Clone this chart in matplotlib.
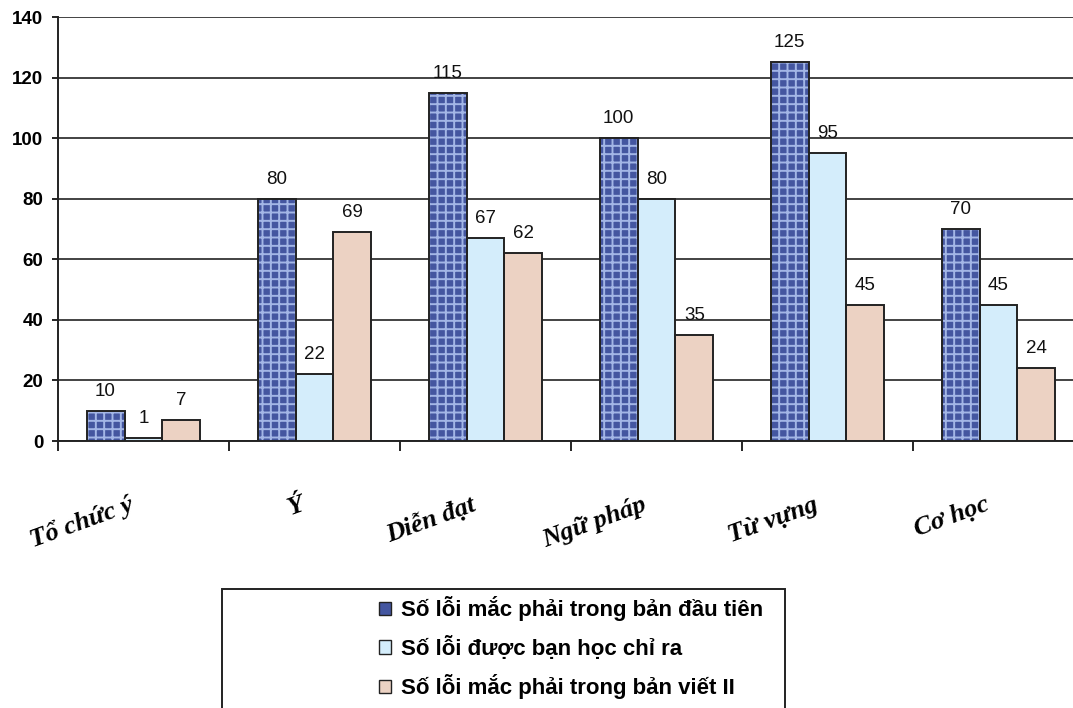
import numpy as np
import matplotlib
matplotlib.use("Agg")
import matplotlib.pyplot as plt
from matplotlib.patches import Rectangle, Patch
from matplotlib.transforms import blended_transform_factory, ScaledTranslation

categories = ["Tổ chức ý", "Ý", "Diễn đạt", "Ngữ pháp", "Từ vựng", "Cơ học"]
first_draft = [10, 80, 115, 100, 125, 70]
peer_found = [1, 22, 67, 80, 95, 45]
second_draft = [7, 69, 62, 35, 45, 24]
series_names = [
    "Số lỗi mắc phải trong bản đầu tiên",
    "Số lỗi được bạn học chỉ ra",
    "Số lỗi mắc phải trong bản viết II",
]
yticks = [0, 20, 40, 60, 80, 100, 120, 140]

plt.rcParams["font.family"] = ["Liberation Sans", "DejaVu Sans"]
plt.rcParams["hatch.linewidth"] = 1.4

fig = plt.figure(figsize=(10.73, 7.08), dpi=100)
ax = fig.add_axes([58 / 1073, 1 - 441 / 708, 1026 / 1073, 424 / 708])

x = np.arange(len(categories))
w = 0.222
fills = [
    dict(facecolor="#4456a0", hatch="++", edgecolor="#a3b6e6"),
    dict(facecolor="#d4edfb", hatch=None, edgecolor="#d4edfb"),
    dict(facecolor="#ecd2c3", hatch=None, edgecolor="#ecd2c3"),
]
for i, (vals, style) in enumerate(zip([first_draft, peer_found, second_draft], fills)):
    pos = x + (i - 1) * w
    ax.bar(pos, vals, w, linewidth=0, zorder=3, **style)
    ax.bar(pos, vals, w, facecolor="none", edgecolor="#222222", linewidth=1.4, zorder=4)
    for px, v in zip(pos, vals):
        ax.annotate(str(v), (px, v), xytext=(0, 8), textcoords="offset points",
                    ha="center", va="bottom", fontsize=13.5, color="#111111")

ax.set_ylim(0, 140)
ax.set_xlim(-0.5, 5.5)
ax.set_yticks(yticks)
ax.set_yticklabels([str(t) for t in yticks], fontsize=13.5, fontweight="bold")
ax.tick_params(axis="y", direction="out", length=4.5, width=1.2, pad=6)
ax.yaxis.grid(True, color="#222222", linewidth=1.2, zorder=0)
ax.set_axisbelow(True)

# category boundary ticks below the x axis
ax.set_xticks(np.arange(-0.5, 6.0, 1.0))
ax.set_xticklabels([])
ax.tick_params(axis="x", direction="out", length=7.5, width=1.2)

for s in ["top", "right"]:
    ax.spines[s].set_visible(False)
ax.spines["left"].set_linewidth(1.4)
ax.spines["bottom"].set_linewidth(1.4)
ax.spines["left"].set_color("#222222")
ax.spines["bottom"].set_color("#222222")

# rotated category names
trans = blended_transform_factory(ax.transData, ax.transAxes) + \
    ScaledTranslation(-0.105, 0, fig.dpi_scale_trans)
for xi, name in zip(x, categories):
    ax.text(xi, -0.148, name, transform=trans, rotation=20, rotation_mode="anchor",
            ha="right", va="center", fontsize=19, fontweight="bold",
            fontstyle="italic", family=["Liberation Serif", "DejaVu Serif"])

# legend box
fig.patches.append(Rectangle((222 / 1073, -0.05), 563 / 1073, 0.05 + 1 - 589 / 708,
                             transform=fig.transFigure, facecolor="white",
                             edgecolor="#222222", linewidth=1.4))
handles = [
    Patch(facecolor=fills[0]["facecolor"], edgecolor="#222222", linewidth=1),
    Patch(facecolor=fills[1]["facecolor"], edgecolor="#222222", linewidth=1),
    Patch(facecolor=fills[2]["facecolor"], edgecolor="#222222", linewidth=1),
]
fig.legend(handles, series_names, loc="upper left",
           bbox_to_anchor=(368 / 1073, 1 - 585 / 708), frameon=False,
           prop=dict(size=16, weight="bold"), handlelength=0.55,
           handleheight=0.55, handletextpad=0.45, labelspacing=0.66, borderpad=0)

fig.savefig("out.png", dpi=100)
